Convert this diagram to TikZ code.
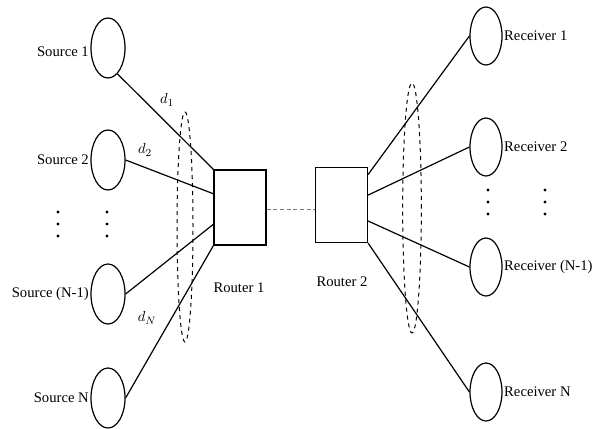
\documentclass[tikz,border=0pt]{standalone}
\usepackage{fontspec}
\setmainfont{Liberation Serif}
\usetikzlibrary{shapes.geometric,calc}

\tikzset{every picture/.style={line width=0.9pt}}
\tikzset{
  host/.style={draw, ellipse, minimum width=25.5pt, minimum height=45pt, inner sep=0pt},
  router/.style={draw, rectangle, minimum width=39pt, minimum height=56.25pt, inner sep=0pt},
  group/.style={draw, dashed, ellipse, inner sep=0pt, line width=0.75pt},
  lbl/.style={inner sep=0.75pt, font=\fontsize{11}{13}\selectfont},
}

\begin{document}
\begin{tikzpicture}[x=0.75pt,y=0.75pt,yscale=-1,xscale=1]
\useasboundingbox (0,0) rectangle (598,428);

%Sources
\node [host] (s1) at (108,48) {};
\node [host] (s2) at (108,160) {};
\node [host] (sn1) at (108,294) {};
\node [host] (sn) at (108,398) {};
%Routers
\node [router] (r1) at (240,207.5) {};
\node [router] (r2) at (341.5,205) {};
%Receivers
\node [host, minimum width=24pt, minimum height=43.5pt] (v1) at (486,36) {};
\node [host, minimum width=24pt, minimum height=43.5pt] (v2) at (486,147) {};
\node [host, minimum width=24pt, minimum height=43.5pt] (vn1) at (486,267) {};
\node [host, minimum width=24pt, minimum height=43.5pt] (vn) at (486,392) {};
%Groups of links
\node [group, minimum width=12pt, minimum height=172.5pt] (g1) at (185,227) {};
\node [group, minimum width=14pt, minimum height=187.5pt] (g2) at (412,208) {};

%Links source side
\draw (s1.-70) -- (r1.north west) ;
\draw (s2.east) -- ($(r1.north west)!0.32!(r1.south west)$) ;
\draw (sn1.east) -- ($(r1.north west)!0.72!(r1.south west)$) ;
\draw (sn.east) -- (r1.south west) ;
%Links receiver side
\draw ($(r2.north east)!0.1!(r2.south east)$) -- (v1.west) ;
\draw ($(r2.north east)!0.37!(r2.south east)$) -- (v2.west) ;
\draw ($(r2.north east)!0.71!(r2.south east)$) -- (vn1.west) ;
\draw (r2.south east) -- (vn.west) ;
%Bottleneck
\coordinate (b1) at ($(r1.east)+(0,2)$) ;
\draw [color={rgb, 255:red, 120; green, 120; blue, 120 }, line width=1.2pt, dash pattern={on 3pt off 2pt}] (b1) -- (b1 -| r2.west) ;

% Text Node
\node [lbl, anchor=east] (ts1) at ([yshift=3pt]s1.west) {Source 1};
\node [lbl, anchor=east] (ts2) at (s2.west) {Source 2};
\node [lbl, anchor=east] (tsn1) at (sn1.west) {Source (N-1)};
\node [lbl, anchor=east] (tsn) at (sn.west) {Source N};
\node [lbl, anchor=west] (tv1) at (v1.east) {Receiver 1};
\node [lbl, anchor=west] (tv2) at (v2.east) {Receiver 2};
\node [lbl, anchor=west] (tvn1) at (vn1.east) {Receiver (N-1)};
\node [lbl, anchor=west] (tvn) at (vn.east) {Receiver N};
\node [lbl] (tr1) at (239,288) {Router 1};
\node [lbl] (tr2) at (342,282) {Router 2};
\node [lbl] (d1) at (167,100) {$d_1$};
\node [lbl] (d2) at (145,150) {$d_2$};
\node [lbl] (dn) at (147,318) {$d_N$};
% Dots
\foreach \y in {212,224,236} {
  \fill (58,\y) circle (1.2pt) (107,\y) circle (1.2pt) ;
}
\foreach \y in {190,202,214} {
  \fill (488,\y) circle (1.2pt) (545,\y) circle (1.2pt) ;
}

\end{tikzpicture}
\end{document}
